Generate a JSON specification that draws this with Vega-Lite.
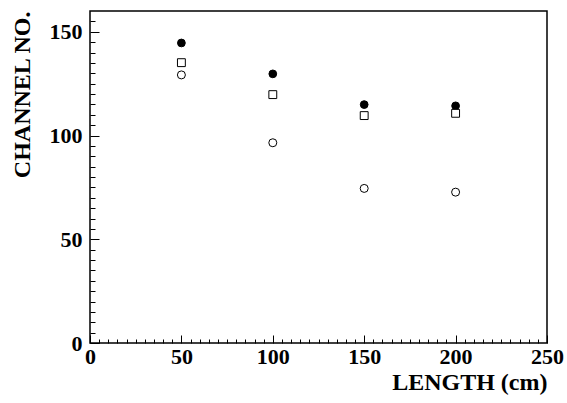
{
  "$schema": "https://vega.github.io/schema/vega-lite/v6.json",
  "width": 457,
  "height": 332,
  "autosize": {"type": "none"},
  "padding": {"left": 90, "top": 11, "right": 20, "bottom": 60},
  "background": "white",
  "config": {
    "view": {"stroke": "black", "strokeWidth": 1.5},
    "axis": {
      "labelFont": "Liberation Serif",
      "labelFontWeight": "bold",
      "labelFontSize": 22,
      "labelColor": "black",
      "titleFont": "Liberation Serif",
      "titleFontWeight": "bold",
      "titleFontSize": 24,
      "titleColor": "black",
      "tickColor": "black",
      "tickWidth": 1,
      "domain": false,
      "grid": false
    }
  },
  "data": {
    "values": [
      {"length": 50, "channel": 144.6, "series": "A"},
      {"length": 100, "channel": 129.7, "series": "A"},
      {"length": 150, "channel": 114.9, "series": "A"},
      {"length": 200, "channel": 114.3, "series": "A"},
      {"length": 50, "channel": 135.1, "series": "B"},
      {"length": 100, "channel": 119.7, "series": "B"},
      {"length": 150, "channel": 109.6, "series": "B"},
      {"length": 200, "channel": 110.7, "series": "B"},
      {"length": 50, "channel": 129.2, "series": "C"},
      {"length": 100, "channel": 96.5, "series": "C"},
      {"length": 150, "channel": 74.5, "series": "C"},
      {"length": 200, "channel": 72.7, "series": "C"}
    ]
  },
  "layer": [
    {
      "mark": {"type": "point", "filled": true, "stroke": "black", "strokeWidth": 1, "opacity": 1},
      "encoding": {
        "x": {
          "field": "length", "type": "quantitative",
          "scale": {"domain": [0, 250], "nice": false, "zero": false},
          "axis": {
            "orient": "bottom",
            "values": [0, 50, 100, 150, 200, 250],
            "tickSize": -8,
            "labelPadding": 11,
            "labelFlush": false,
            "labelOverlap": false,
            "title": "LENGTH (cm)",
            "titleAnchor": "end",
            "titlePadding": 3
          }
        },
        "y": {
          "field": "channel", "type": "quantitative",
          "scale": {"domain": [0, 160], "nice": false, "zero": false},
          "axis": {
            "orient": "left",
            "values": [0, 50, 100, 150],
            "tickSize": -9,
            "labelPadding": 17,
            "labelFlush": false,
            "labelOverlap": false,
            "title": "CHANNEL NO.",
            "titleAnchor": "end",
            "titlePadding": 15
          }
        },
        "shape": {
          "field": "series", "type": "nominal",
          "scale": {"domain": ["A", "B", "C"], "range": ["circle", "square", "circle"]},
          "legend": null
        },
        "fill": {
          "field": "series", "type": "nominal",
          "scale": {"domain": ["A", "B", "C"], "range": ["black", "white", "white"]},
          "legend": null
        },
        "size": {
          "field": "series", "type": "nominal",
          "scale": {"domain": ["A", "B", "C"], "range": [60, 64, 60]},
          "legend": null
        }
      }
    },
    {
      "mark": {"type": "point", "opacity": 0},
      "encoding": {
        "x": {
          "field": "length", "type": "quantitative",
          "axis": {
            "orient": "bottom",
            "values": [5,10,15,20,25,30,35,40,45,55,60,65,70,75,80,85,90,95,105,110,115,120,125,130,135,140,145,155,160,165,170,175,180,185,190,195,205,210,215,220,225,230,235,240,245],
            "tickSize": -4,
            "labels": false,
            "title": null
          }
        },
        "y": {
          "field": "channel", "type": "quantitative",
          "axis": {
            "orient": "left",
            "values": [5,10,15,20,25,30,35,40,45,55,60,65,70,75,80,85,90,95,105,110,115,120,125,130,135,140,145,155],
            "tickSize": -5,
            "labels": false,
            "title": null
          }
        }
      }
    }
  ],
  "resolve": {"axis": {"x": "independent", "y": "independent"}}
}
